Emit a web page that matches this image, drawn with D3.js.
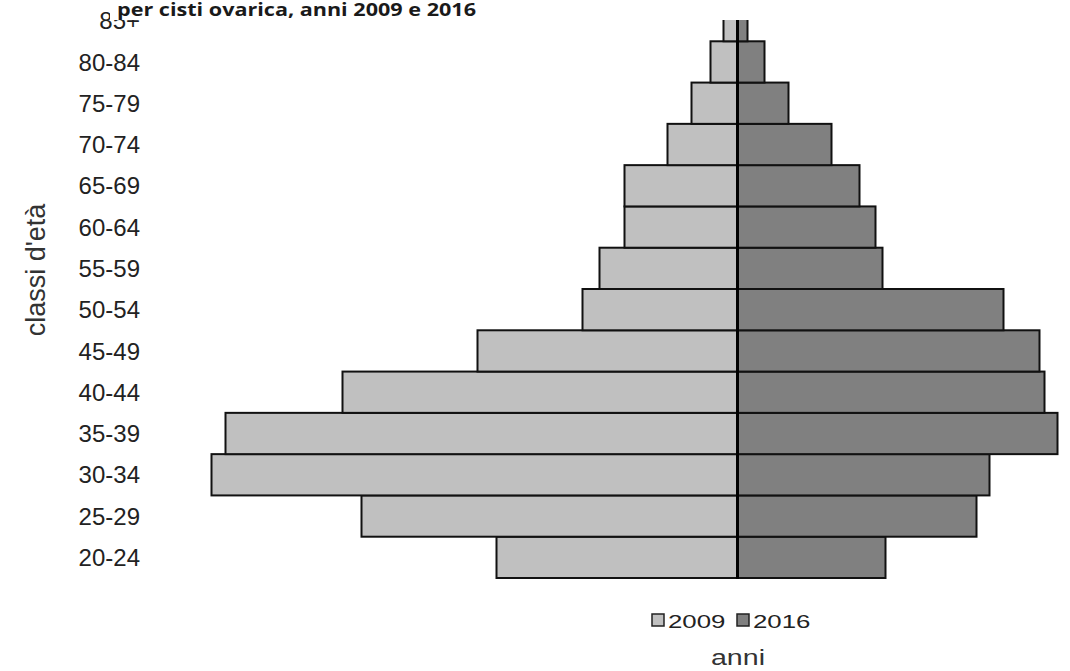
<!DOCTYPE html>
<html>
<head>
<meta charset="utf-8">
<script src="https://cdn.jsdelivr.net/npm/d3@7"></script>
<style>
  html, body { margin: 0; padding: 0; background: #fff; }
  svg { display: block; }
</style>
</head>
<body>
<svg id="chart" width="1070" height="671"></svg>
<script>
// Age classes, from youngest (bottom) to oldest (top)
const ageClasses = ["20-24", "25-29", "30-34", "35-39", "40-44", "45-49", "50-54",
                    "55-59", "60-64", "65-69", "70-74", "75-79", "80-84", "85+"];
// Values for each year, same order as ageClasses
const values2009 = [24.1, 37.6, 52.6, 51.2, 39.5, 26.0, 15.5, 13.8, 11.3, 11.3, 7.0, 4.6, 2.7, 1.4];
const values2016 = [14.8, 23.9, 25.2, 32.0, 30.7, 30.2, 26.6, 14.5, 13.8, 12.2, 9.4, 5.1, 2.7, 1.0];
const years = ["2009", "2016"];
const yearColors = ["#c0c0c0", "#808080"];

const svg = d3.select("#chart");
const font = "'Liberation Sans', Arial, sans-serif";
const centerX = 737.5;

// 2009 extends left of centre, 2016 to the right
const x = d3.scaleLinear().domain([-60, 60]).range([centerX - 600, centerX + 600]);
const y = d3.scaleBand().domain(ageClasses).range([578, 0]).padding(0);

const rows = ageClasses.map((c, i) => ({ cls: c, v09: values2009[i], v16: values2016[i] }));

const bars = svg.append("g");
bars.selectAll("rect.y09").data(rows).join("rect")
  .attr("class", "y09")
  .attr("x", d => x(-d.v09))
  .attr("y", d => y(d.cls))
  .attr("width", d => x(0) - x(-d.v09))
  .attr("height", y.bandwidth())
  .attr("fill", yearColors[0])
  .attr("stroke", "#111")
  .attr("stroke-width", 2);

bars.selectAll("rect.y16").data(rows).join("rect")
  .attr("class", "y16")
  .attr("x", x(0))
  .attr("y", d => y(d.cls))
  .attr("width", d => x(d.v16) - x(0))
  .attr("height", y.bandwidth())
  .attr("fill", yearColors[1])
  .attr("stroke", "#111")
  .attr("stroke-width", 2);

// Central axis line
svg.append("line")
  .attr("x1", x(0)).attr("x2", x(0))
  .attr("y1", 0).attr("y2", 579)
  .attr("stroke", "#000").attr("stroke-width", 3);

// Age class labels (left axis, no line)
const yAxis = d3.axisLeft(y).tickSize(0).tickPadding(0);
const yg = svg.append("g").attr("transform", "translate(140,0)").call(yAxis);
yg.select(".domain").remove();
yg.selectAll("text")
  .attr("font-family", font)
  .attr("font-size", 24)
  .attr("fill", "#222")
  .attr("dy", "0.36em");

// Axis title
svg.append("text")
  .attr("transform", "translate(45,270) rotate(-90)")
  .attr("text-anchor", "middle")
  .attr("font-family", font)
  .attr("font-size", 27)
  .attr("fill", "#333")
  .text("classi d'età");

// Legend
const legend = svg.append("g");
const legendItems = [
  { label: years[0], color: yearColors[0], x: 652 },
  { label: years[1], color: yearColors[1], x: 737 }
];
legendItems.forEach(it => {
  legend.append("rect")
    .attr("x", it.x).attr("y", 614)
    .attr("width", 12).attr("height", 12)
    .attr("fill", it.color)
    .attr("stroke", "#222").attr("stroke-width", 1.5);
  legend.append("text")
    .attr("transform", `translate(${it.x + 16},627.5) scale(1.36,1)`)
    .attr("font-family", font)
    .attr("font-size", 19)
    .attr("fill", "#222")
    .text(it.label);
});

svg.append("text")
  .attr("transform", "translate(738,665) scale(1.3,1)")
  .attr("text-anchor", "middle")
  .attr("font-family", font)
  .attr("font-size", 22)
  .attr("fill", "#333")
  .text("anni");

// Heading band across the top
svg.append("rect")
  .attr("x", 110).attr("y", 0)
  .attr("width", 960).attr("height", 20)
  .attr("fill", "#fff");
svg.append("text")
  .attr("transform", "translate(117,16) scale(1.27,1)")
  .attr("font-family", "'Open Sans', sans-serif")
  .attr("font-weight", "bold")
  .attr("font-size", 17)
  .attr("fill", "#1a1a1a")
  .text("per cisti ovarica, anni 2009 e 2016");
</script>
</body>
</html>
